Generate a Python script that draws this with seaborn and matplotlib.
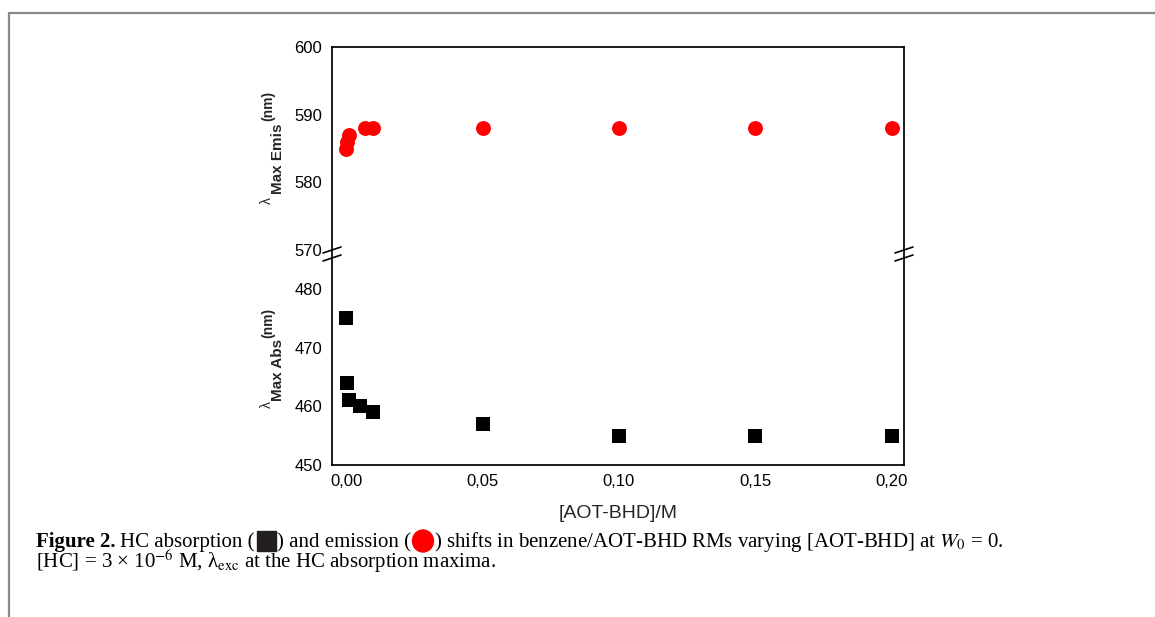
import matplotlib
matplotlib.use('Agg')
import matplotlib.pyplot as plt
import seaborn as sns
from matplotlib.patches import Rectangle, Ellipse
from matplotlib.lines import Line2D

# data
abs_x = [0.0, 0.0003, 0.001, 0.005, 0.01, 0.05, 0.10, 0.15, 0.20]
abs_nm = [475, 464, 461, 460, 459, 457, 455, 455, 455]
emis_x = [0.0, 0.0005, 0.001, 0.007, 0.01, 0.05, 0.10, 0.15, 0.20]
emis_nm = [585, 586, 587, 588, 588, 588, 588, 588, 588]
x_ticks = [0.0, 0.05, 0.10, 0.15, 0.20]
x_ticklabels = ['0,00', '0,05', '0,10', '0,15', '0,20']
abs_ticks = [450, 460, 470, 480]
emis_ticks = [570, 580, 590, 600]

W, H = 1155, 617

sns.set_style('white')
plt.rcParams['font.family'] = ['Liberation Sans', 'DejaVu Sans']
plt.rcParams['mathtext.fontset'] = 'stix'


def fx(px):
    return px / W


def fy(py):
    return 1 - py / H


fig = plt.figure(figsize=(W / 100, H / 100), dpi=100)
fig.patch.set_facecolor('white')

ax_top = fig.add_axes([fx(332), fy(250), (904 - 332) / W, (250 - 47) / H])
ax_bot = fig.add_axes([fx(332), fy(465), (904 - 332) / W, (465 - 250) / H])

sns.scatterplot(x=emis_x, y=emis_nm, ax=ax_top, color='#ff0000', marker='o',
                s=115, linewidth=0, clip_on=False)
sns.scatterplot(x=abs_x, y=abs_nm, ax=ax_bot, color='black', marker='s',
                s=90, linewidth=0, clip_on=False)

xlim = (-0.00513, 0.2044)
for ax in (ax_top, ax_bot):
    ax.set_xlim(*xlim)
    ax.set_facecolor('white')
    for sp in ax.spines.values():
        sp.set_linewidth(1.25)
        sp.set_color('black')
    ax.tick_params(which='both', direction='in', width=1.2, colors='black',
                   labelsize=12, top=False, right=False)
    ax.tick_params(which='major', length=6, pad=7)
    ax.tick_params(which='minor', length=3.5)
    ax.set_xlabel('')
    ax.set_ylabel('')

# top panel (emission)
ax_top.spines['bottom'].set_visible(False)
ax_top.set_ylim(570, 600)
ax_top.set_yticks(emis_ticks)
ax_top.set_yticks([575, 585, 595], minor=True)
ax_top.set_xticks([])
ax_top.set_xticks([], minor=True)

# bottom panel (absorption)
ax_bot.spines['top'].set_visible(False)
ax_bot.set_ylim(450, 486.6)
ax_bot.set_yticks(abs_ticks)
ax_bot.set_yticks([455, 465, 475], minor=True)
ax_bot.set_xticks(x_ticks)
ax_bot.set_xticklabels(x_ticklabels)
ax_bot.set_xticks([0.025, 0.075, 0.125, 0.175], minor=True)
ax_bot.tick_params(axis='x', which='major', pad=6.5)

# axis break marks
for xb in (332, 904):
    for yb in (250, 258):
        fig.add_artist(Line2D([fx(xb - 9), fx(xb + 9)], [fy(yb + 3), fy(yb - 3)],
                              color='black', lw=1.2, transform=fig.transFigure))

# y labels built from pieces
def ylab(parts):
    for (px, py, s, size, wt) in parts:
        fig.text(fx(px), fy(py), s, rotation=90, ha='center', va='center',
                 fontsize=size, fontweight=wt)


ylab([(267, 201, 'λ', 10, 'normal'),
      (278, 159, 'Max Emis', 11, 'bold'),
      (268, 106, '(nm)', 10, 'bold')])
ylab([(267, 405, 'λ', 10, 'normal'),
      (278, 370, 'Max Abs', 11, 'bold'),
      (268, 323, '(nm)', 10, 'bold')])

fig.text(fx(618), fy(513), '[AOT-BHD]/M', ha='center', va='center', fontsize=14)

# page frame
fig.add_artist(Line2D([fx(9), 1], [fy(13), fy(13)], color='#888888', lw=1.6,
                      transform=fig.transFigure))
fig.add_artist(Line2D([fx(9), fx(9)], [fy(13), 0], color='#888888', lw=1.6,
                      transform=fig.transFigure))

# caption
cap_size = 15
serif = ['Liberation Serif', 'DejaVu Serif']
renderer = fig.canvas.get_renderer()


def put(x, y, s, **kw):
    t = fig.text(fx(x), fy(y), s, ha='left', va='baseline', fontsize=cap_size,
                 family=serif, color='black', **kw)
    return x + t.get_window_extent(renderer).width


y1, y2 = 547, 568
x = put(36, y1, 'Figure 2.', fontweight='bold')
x = put(x + 5, y1, 'HC absorption (')
fig.add_artist(Rectangle((fx(x + 2), fy(y1 + 4)), 19 / W, 20 / H, color='#231f20',
                         transform=fig.transFigure))
x = put(x + 22, y1, ') and emission (')
fig.add_artist(Ellipse((fx(x + 12), fy(y1 - 6)), 21 / W, 22 / H, color='#ff0000',
                       transform=fig.transFigure))
x = put(x + 23, y1, ') shifts in benzene/AOT-BHD RMs varying [AOT-BHD] at $W_0$ = 0.')
put(36, y2, '[HC] = 3 × 10$^{-6}$ M, λ$_{\\rm exc}$ at the HC absorption maxima.')

fig.savefig('out.png', dpi=100, facecolor='white')
